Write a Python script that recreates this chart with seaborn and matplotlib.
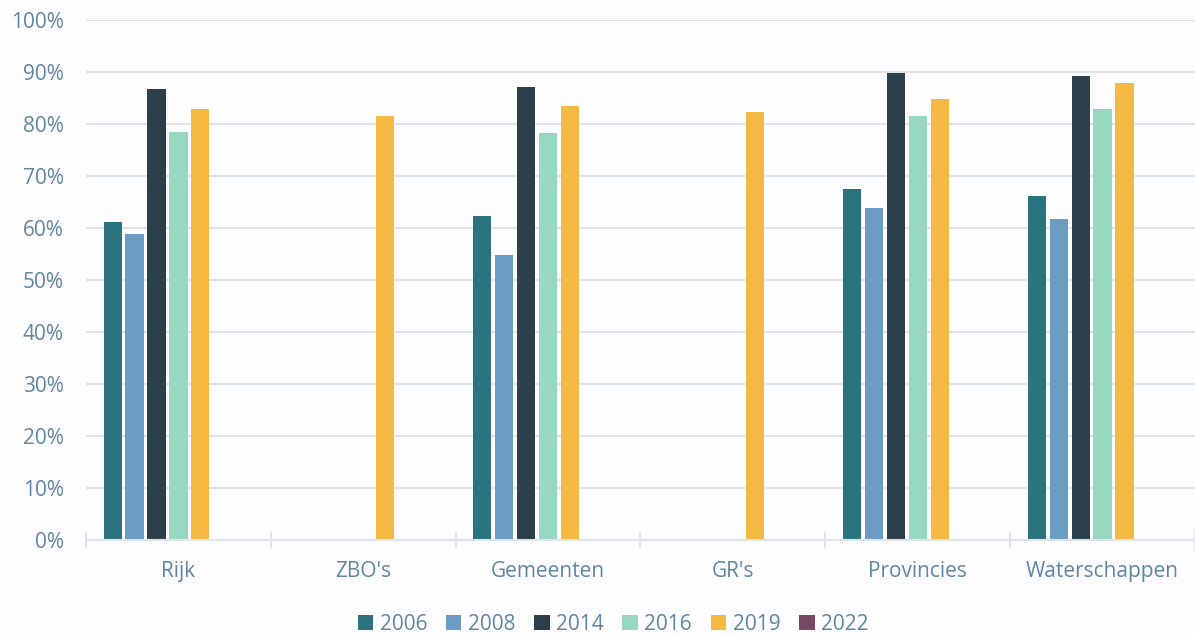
import numpy as np
import pandas as pd
import seaborn as sns
import matplotlib.pyplot as plt
from matplotlib.patches import Patch

# data (share, 0-1)
categories = ["Rijk", "ZBO's", "Gemeenten", "GR's", "Provincies", "Waterschappen"]
years = ["2006", "2008", "2014", "2016", "2019", "2022"]
v2006 = [0.611, np.nan, 0.623, np.nan, 0.675, 0.662]
v2008 = [0.589, np.nan, 0.548, np.nan, 0.638, 0.617]
v2014 = [0.867, np.nan, 0.871, np.nan, 0.898, 0.892]
v2016 = [0.785, np.nan, 0.783, np.nan, 0.815, 0.829]
v2019 = [0.829, 0.816, 0.835, 0.824, 0.849, 0.879]
v2022 = [np.nan] * 6

colors = ["#2B737E", "#6B9CC4", "#2C404C", "#98D8C3", "#F3B942", "#764862"]
text_col = "#5F87A0"
grid_col = "#DDE4EA"
bg = "#FDFCFE"

series = [v2006, v2008, v2014, v2016, v2019, v2022]
rows = []
for y, vals in zip(years, series):
    for c, v in zip(categories, vals):
        rows.append({"cat": c, "year": y, "value": v})
df = pd.DataFrame(rows).dropna()

plt.rcParams['font.family'] = ['Open Sans', 'DejaVu Sans']

fig = plt.figure(figsize=(11.95, 6.35), dpi=100, facecolor=bg)
ax = fig.add_axes([86 / 1195, 1 - 540 / 635, 1 - 86 / 1195, 520 / 635])
ax.set_facecolor(bg)

# an extra empty hue slot keeps the groups the same width as the original
hue_order = years + ["_pad"]
pal = dict(zip(hue_order, colors + [bg]))
sns.barplot(data=df, x="cat", y="value", hue="year", order=categories,
            hue_order=hue_order, palette=pal, width=0.83, gap=0.17,
            saturation=1, errorbar=None, legend=False, ax=ax)

ax.set_ylim(0, 1)
ax.set_xlim(-0.5, len(categories) - 0.5)
ax.set_yticks(np.arange(0, 1.01, 0.1))
ax.set_yticklabels([f"{int(round(t * 100))}%" for t in np.arange(0, 1.01, 0.1)])
ax.set_xlabel("")
ax.set_ylabel("")
ax.yaxis.grid(True, color=grid_col, linewidth=1.5)
ax.set_axisbelow(True)
for s in ["top", "right", "left"]:
    ax.spines[s].set_visible(False)
ax.spines["bottom"].set_color(grid_col)
ax.spines["bottom"].set_linewidth(1.5)

ax.tick_params(axis="y", length=0, pad=16, labelsize=15, labelcolor=text_col)
ax.tick_params(axis="x", which="major", length=0, pad=15, labelsize=15, labelcolor=text_col)
ax.set_xticks(np.arange(-0.5, len(categories), 1), minor=True)
ax.tick_params(axis="x", which="minor", length=11, width=1.5, color=grid_col, direction="inout")

handles = [Patch(facecolor=c, label=y) for c, y in zip(colors, years)]
fig.legend(handles=handles, loc="center", bbox_to_anchor=(613 / 1195, 1 - 624 / 635),
           ncol=6, frameon=False, fontsize=15, labelcolor=text_col,
           handlelength=0.75, handleheight=0.75, handletextpad=0.3, columnspacing=0.9)

fig.savefig("out.png", dpi=100, facecolor=bg)
